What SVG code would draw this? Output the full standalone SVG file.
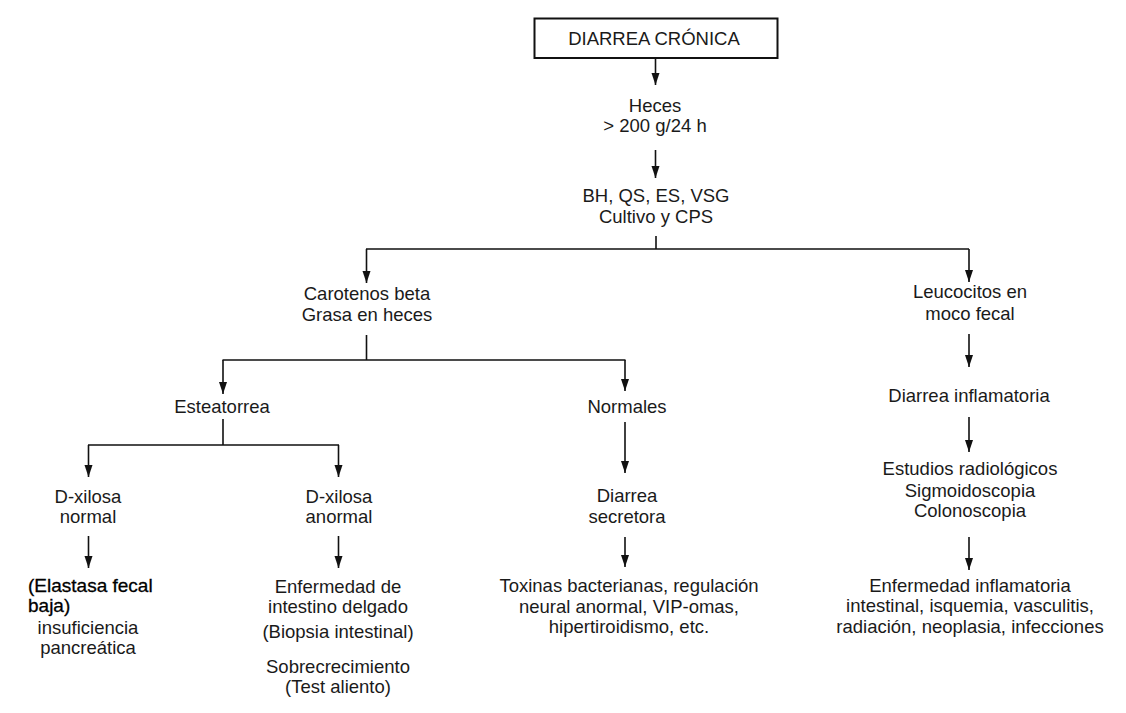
<svg xmlns="http://www.w3.org/2000/svg" width="1126" height="713" viewBox="0 0 1126 713">
<defs>
<marker id="ah" markerUnits="userSpaceOnUse" markerWidth="13" markerHeight="9" refX="12" refY="4.5" orient="auto">
<path d="M0,0.5 L12,4.5 L0,8.5 z" fill="#111"/>
</marker>
<style>
text{font-family:"Liberation Sans",Arial,Helvetica,sans-serif;font-size:18.5px;fill:#1a1a1a;text-anchor:middle}
.big{font-size:19px;fill:#000;text-anchor:start;stroke:#000;stroke-width:0.3}
.c{fill:none;stroke:#111;stroke-width:1.6}
.a{fill:none;stroke:#111;stroke-width:1.6;marker-end:url(#ah)}
</style>
</defs>
<rect width="1126" height="713" fill="#fff"/>
<g id="connectors">
<path class="a" d="M655.5,58 V85"/>
<path class="a" d="M655.5,150 V178"/>
<path class="c" d="M656,236 V249 M366,249 H969"/>
<path class="a" d="M366.5,249 V283"/>
<path class="a" d="M969,249 V282"/>
<path class="c" d="M366.5,335 V360 M222.5,360 H625.5"/>
<path class="a" d="M223,360 V394"/>
<path class="a" d="M625,360 V391"/>
<path class="c" d="M223,419 V445 M88,445 H339"/>
<path class="a" d="M88.5,445 V477"/>
<path class="a" d="M338.5,445 V477"/>
<path class="a" d="M88.5,536 V568"/>
<path class="a" d="M338.5,536 V568"/>
<path class="a" d="M625,422 V473"/>
<path class="a" d="M625,537 V567"/>
<path class="a" d="M969,334 V367"/>
<path class="a" d="M969,417 V452"/>
<path class="a" d="M969,537 V570"/>
</g>
<g id="n-diarrea-cronica">
<rect x="534.5" y="18.5" width="243" height="39.5" fill="#fff" stroke="#111" stroke-width="2"/>
<text x="654" y="45">DIARREA CRÓNICA</text>
</g>
<g id="n-heces">
<text x="655" y="112">Heces</text>
<text x="655" y="132">&gt; 200 g/24 h</text>
</g>
<g id="n-bh">
<text x="656" y="202">BH, QS, ES, VSG</text>
<text x="656" y="223">Cultivo y CPS</text>
</g>
<g id="n-carotenos">
<text x="367" y="300">Carotenos beta</text>
<text x="367" y="321">Grasa en heces</text>
</g>
<g id="n-leucocitos">
<text x="970" y="298">Leucocitos en</text>
<text x="970" y="320">moco fecal</text>
</g>
<g id="n-esteatorrea">
<text x="222" y="413">Esteatorrea</text>
</g>
<g id="n-normales">
<text x="627" y="413">Normales</text>
</g>
<g id="n-diarrea-inflamatoria">
<text x="969" y="402">Diarrea inflamatoria</text>
</g>
<g id="n-dxilosa-normal">
<text x="88" y="503">D-xilosa</text>
<text x="88" y="523">normal</text>
</g>
<g id="n-dxilosa-anormal">
<text x="339" y="503">D-xilosa</text>
<text x="339" y="523">anormal</text>
</g>
<g id="n-diarrea-secretora">
<text x="627" y="502">Diarrea</text>
<text x="627" y="523">secretora</text>
</g>
<g id="n-estudios">
<text x="970" y="475">Estudios radiológicos</text>
<text x="970" y="497">Sigmoidoscopia</text>
<text x="970" y="517">Colonoscopia</text>
</g>
<g id="n-elastasa">
<text class="big" x="28" y="592">(Elastasa fecal</text>
<text class="big" x="28" y="612">baja)</text>
<text x="88" y="634">insuficiencia</text>
<text x="88" y="654">pancreática</text>
</g>
<g id="n-intestino">
<text x="338" y="593">Enfermedad de</text>
<text x="338" y="613">intestino delgado</text>
<text x="338" y="638">(Biopsia intestinal)</text>
<text x="338" y="673">Sobrecrecimiento</text>
<text x="338" y="693">(Test aliento)</text>
</g>
<g id="n-toxinas">
<text x="629" y="592">Toxinas bacterianas, regulación</text>
<text x="629" y="613">neural anormal, VIP-omas,</text>
<text x="629" y="633">hipertiroidismo, etc.</text>
</g>
<g id="n-enfermedad-inflamatoria">
<text x="970" y="592">Enfermedad inflamatoria</text>
<text x="970" y="612">intestinal, isquemia, vasculitis,</text>
<text x="970" y="633">radiación, neoplasia, infecciones</text>
</g>
</svg>
